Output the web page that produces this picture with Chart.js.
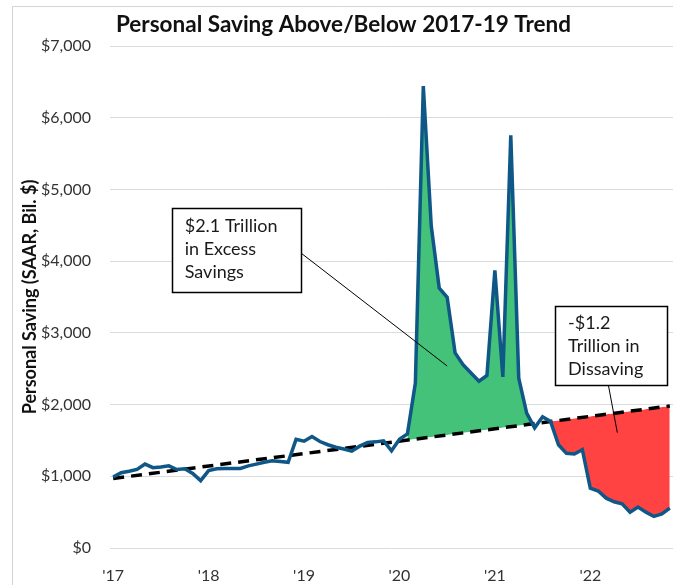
<!DOCTYPE html>
<html>
<head>
<meta charset="utf-8">
<script src="https://cdn.jsdelivr.net/npm/chart.js@4/dist/chart.umd.min.js"></script>
<style>
    html, body { margin: 0; padding: 0; background: #fff; }
    #wrap { width: 673px; height: 585px; }
</style>
</head>
<body>
<div id="wrap"><canvas id="savingChart" width="673" height="585"></canvas></div>
<script>
"use strict";
// monthly personal saving, Jan 2017 .. Nov 2022 (SAAR, bil. $)
const saving = [
    990, 1050, 1070, 1095, 1170, 1120, 1130, 1145, 1095, 1105, 1040, 940,
    1080, 1105, 1110, 1110, 1110, 1145, 1170, 1195, 1215, 1205, 1195, 1515,
    1490, 1555, 1485, 1440, 1405, 1380, 1350, 1420, 1470, 1480, 1495, 1355,
    1515, 1590, 2300, 6440, 4490, 3625, 3495, 2720, 2555, 2440, 2325, 2405,
    3870, 2385, 5755, 2370, 1880, 1675, 1830, 1765, 1440, 1320, 1310, 1370,
    835, 795, 695, 645, 615, 500, 570, 500, 440, 475, 555
];
// 2017-19 trend, start and end of the window
const trendIdx = [0, 70];
const trendVal = [970, 1980];
// month index ranges that get shaded
const excessMonths = [37, 53];
const dissavingMonths = [55, 70];
const yearLabels = ["'17", "'18", "'19", "'20", "'21", "'22"];
const yTicks = [0, 1000, 2000, 3000, 4000, 5000, 6000, 7000];

const callouts = [
    { lines: ['$2.1 Trillion', 'in Excess', 'Savings'], box: [7.36, 23.62, 4737, 3566], leader: [23.4, 4132, 42.0, 2538] },
    { lines: ['-$1.2', 'Trillion in', 'Dissaving'], box: [55.57, 69.62, 3379, 2273], leader: [62.27, 2273, 63.4, 1608] }
];

const FONT = 'Lato, "Liberation Sans", sans-serif';

function pointsFor(range) {
    let pts = [];
    for (let i = range[0]; i <= range[1]; i++) {
        pts.push({ x: i, y: saving[i] });
    }
    return pts;
}

const framePlugin = {
    id: 'frame',
    beforeDraw(chart) {
        const ctx = chart.ctx;
        ctx.save();
        ctx.fillStyle = '#fff';
        ctx.fillRect(0, 0, chart.width, chart.height);
        ctx.strokeStyle = '#d4d4d4';
        ctx.lineWidth = 1;
        ctx.beginPath();
        ctx.moveTo(12.5, chart.height);
        ctx.lineTo(12.5, 6.5);
        ctx.lineTo(chart.width, 6.5);
        ctx.stroke();
        ctx.restore();
    }
};

const calloutPlugin = {
    id: 'callouts',
    afterDatasetsDraw(chart) {
        const ctx = chart.ctx;
        const x = chart.scales.x;
        const y = chart.scales.y;
        ctx.save();
        callouts.forEach(c => {
            const l = x.getPixelForValue(c.box[0]);
            const r = x.getPixelForValue(c.box[1]);
            const t = y.getPixelForValue(c.box[2]);
            const b = y.getPixelForValue(c.box[3]);
            ctx.strokeStyle = '#000';
            ctx.lineWidth = 1;
            ctx.beginPath();
            ctx.moveTo(x.getPixelForValue(c.leader[0]), y.getPixelForValue(c.leader[1]));
            ctx.lineTo(x.getPixelForValue(c.leader[2]), y.getPixelForValue(c.leader[3]));
            ctx.stroke();
            ctx.fillStyle = '#fff';
            ctx.fillRect(l, t, r - l, b - t);
            ctx.lineWidth = 1.5;
            ctx.strokeRect(Math.round(l) + 0.5, Math.round(t) + 0.5, Math.round(r - l), Math.round(b - t));
            ctx.fillStyle = '#1a1a1a';
            ctx.font = '18px ' + FONT;
            ctx.textBaseline = 'middle';
            c.lines.forEach((txt, k) => {
                ctx.fillText(txt, l + 13, t + 18 + k * 23);
            });
        });
        ctx.restore();
    }
};

const ctx = document.getElementById('savingChart').getContext('2d');
new Chart(ctx, {
    type: 'line',
    data: {
        datasets: [
            {
                label: 'Personal Saving',
                data: saving.map((v, i) => ({ x: i, y: v })),
                borderColor: '#0f5787',
                borderWidth: 3.5,
                pointRadius: 0,
                tension: 0,
                fill: false
            },
            {
                label: 'Trend',
                data: trendIdx.map((v, i) => ({ x: v, y: trendVal[i] })),
                borderColor: '#000',
                borderWidth: 3.5,
                borderDash: [11, 7],
                pointRadius: 0,
                fill: false
            },
            {
                label: 'Excess',
                data: pointsFor(excessMonths),
                borderWidth: 0,
                pointRadius: 0,
                fill: { target: 1, above: '#44c27a', below: 'rgba(0,0,0,0)' }
            },
            {
                label: 'Dissaving',
                data: pointsFor(dissavingMonths),
                borderWidth: 0,
                pointRadius: 0,
                fill: { target: 1, above: 'rgba(0,0,0,0)', below: '#ff4242' }
            }
        ]
    },
    options: {
        responsive: false,
        animation: false,
        devicePixelRatio: 1,
        layout: { padding: { left: 14, right: 0, top: 0, bottom: 0 } },
        plugins: {
            legend: { display: false },
            tooltip: { enabled: false },
            title: {
                display: true,
                text: 'Personal Saving Above/Below 2017-19 Trend',
                color: '#111',
                font: { family: FONT, size: 22.5, weight: 'bold', lineHeight: 1.2 },
                padding: { top: 11, bottom: 8 }
            }
        },
        scales: {
            x: {
                type: 'linear',
                min: -0.4,
                max: 70.4,
                afterBuildTicks: scale => { scale.ticks = yearLabels.map((_, k) => ({ value: k * 12 })); },
                afterFit: scale => { scale.height = 37; },
                grid: { display: false },
                border: { display: false },
                ticks: {
                    padding: 10,
                    color: '#333',
                    font: { family: FONT, size: 16 },
                    maxRotation: 0,
                    callback: value => yearLabels[Math.round(value / 12)]
                }
            },
            y: {
                min: 0,
                max: 7000,
                afterBuildTicks: scale => { scale.ticks = yTicks.map(v => ({ value: v })); },
                afterFit: scale => { scale.width = 96; },
                grid: { color: '#dcdcdc', lineWidth: 1, drawTicks: false },
                border: { display: false },
                ticks: {
                    padding: 19,
                    color: '#333',
                    font: { family: FONT, size: 16 },
                    callback: value => '$' + value.toLocaleString('en-US')
                },
                title: {
                    display: true,
                    text: 'Personal Saving (SAAR, Bil. $)',
                    color: '#111',
                    font: { family: FONT, size: 18, weight: 'bold', lineHeight: 1.2 },
                    padding: { top: 5, bottom: 0 }
                }
            }
        }
    },
    plugins: [framePlugin, calloutPlugin]
});
</script>
</body>
</html>
